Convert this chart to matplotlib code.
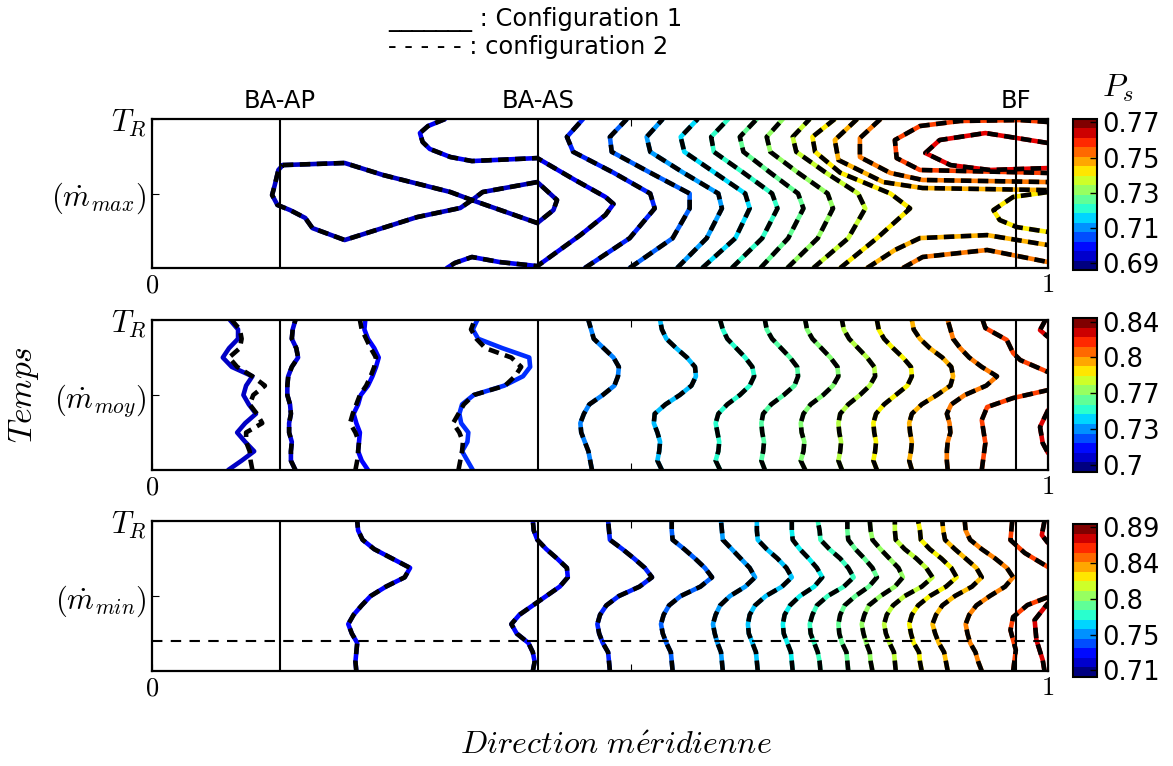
"""
Iso-Ps contours, configuration 1 vs configuration 2, three mass-flow points.
"""
import numpy as np
import matplotlib.pyplot as plt
from matplotlib import colors, cm

plt.rcParams['mathtext.fontset'] = 'cm'
plt.rcParams['font.family'] = ['DejaVu Sans']

# ---------------------------------------------------------------- colour bars
cbar_lims = [(0.6862, 0.7719), (0.6934, 0.8434), (0.7015, 0.8942)]
cbar_ticks = [[0.69, 0.71, 0.73, 0.75, 0.77],
              [0.70, 0.735, 0.77, 0.805, 0.84],
              [0.71, 0.755, 0.80, 0.845, 0.89]]
cbar_labels = [['0.69', '0.71', '0.73', '0.75', '0.77'],
               ['0.7', '0.73', '0.77', '0.8', '0.84'],
               ['0.71', '0.75', '0.8', '0.84', '0.89']]

# blade rows (meridional position)
rows_x = [0.143, 0.431, 0.964]
rows_name = ['BA-AP', 'BA-AS', 'BF']
row_tick = 0.535

ytick_names = [r'$(\dot{m}_{max})$', r'$(\dot{m}_{moy})$', r'$(\dot{m}_{min})$']

# ---------------------------------------------------------------- panel 1 (m_max)
# iso-lines given as x(t) on a common time grid
p1_t = [0.0, 0.2, 0.4, 0.5, 0.64, 0.78, 0.88, 1.0]
p1_lines = [
    [.483, .533, .561, .556, .515, .470, .463, .481],
    [.533, .581, .600, .600, .556, .513, .511, .530],
    [.586, .619, .636, .632, .593, .556, .552, .570],
    [.614, .651, .667, .662, .628, .594, .590, .609],
    [.647, .681, .698, .692, .660, .627, .624, .643],
    [.679, .710, .727, .721, .690, .660, .656, .675],
    [.709, .743, .760, .754, .721, .690, .686, .704],
    [.738, .777, .796, .788, .752, .719, .715, .734],
    [.768, .809, .846, .824, .768, .740, .737, .762],
]
p1_lvl = [.16, .22, .28, .34, .41, .47, .53, .59, .66]

# iso-lines that are not single valued in t: (level, x, t)
p1_free = [
    (.06, [.146, .215, .258, .333, .357, .430, .448, .452, .430, .369, .357, .344,
           .296, .215, .179, .171, .154, .140, .134, .137, .141, .146],
          [.691, .705, .624, .510, .456, .302, .389, .456, .577, .510, .456, .403,
           .342, .188, .268, .336, .389, .423, .490, .557, .658, .691]),
    (.10, [.327, .308, .299, .302, .310, .333, .357, .430, .472, .506, .515, .506,
           .478, .430, .388, .357, .338, .329],
          [1.0, .953, .906, .846, .799, .745, .718, .738, .591, .477, .430, .356,
           .221, .013, .040, .074, .034, 0.0]),
    (.66, [1.0, .961, .939, .946, .965, 1.0], [.510, .477, .389, .322, .275, .242]),
    (.72, [.787, .762, .766, .816, .860, 1.0], [1.0, .859, .725, .577, .537, .523]),
    (.72, [.798, .829, .857, .932, 1.0], [0.0, .121, .201, .221, .154]),
    (.78, [.813, .790, .790, .824, .860, 1.0], [1.0, .872, .745, .638, .591, .577]),
    (.78, [.838, .860, .932, 1.0], [0.0, .074, .121, .040]),
    (.84, [1.0, .969, .902, .857, .829, .831, .857, 1.0],
          [.980, .993, .987, .953, .859, .738, .658, .638]),
    (.91, [1.0, .930, .879, .863, .891, .935, 1.0],
          [.839, .906, .859, .772, .691, .658, .671]),
]

# ---------------------------------------------------------------- panel 2 (m_moy)
p2_t = np.linspace(0, 1, 17)
p2_lines = [
    [.085, .100, .114, .104, .095, .104, .116, .108, .102, .105, .112, .089, .079, .086, .096, .096, .087],
    [.160, .155, .155, .156, .153, .153, .155, .154, .151, .151, .152, .156, .163, .161, .156, .157, .160],
    [.241, .234, .230, .231, .232, .228, .225, .230, .233, .241, .246, .250, .253, .248, .241, .237, .238],
    [.358, .352, .346, .352, .353, .345, .343, .346, .359, .393, .414, .422, .421, .391, .364, .358, .363],
    [.491, .489, .487, .483, .479, .478, .482, .488, .503, .516, .520, .521, .515, .504, .493, .490, .487],
    [.569, .564, .566, .567, .564, .560, .561, .573, .589, .602, .607, .606, .597, .585, .574, .569, .567],
    [.634, .629, .632, .633, .631, .629, .632, .642, .656, .667, .672, .670, .662, .652, .642, .637, .634],
    [.684, .680, .682, .683, .681, .680, .682, .691, .705, .717, .721, .720, .712, .702, .692, .686, .684],
    [.729, .724, .727, .728, .725, .724, .727, .735, .749, .760, .766, .765, .757, .747, .737, .731, .729],
    [.770, .766, .768, .769, .767, .766, .768, .777, .790, .801, .807, .806, .798, .788, .778, .772, .770],
    [.809, .805, .807, .808, .806, .805, .808, .817, .830, .843, .848, .847, .838, .827, .817, .811, .809],
    [.848, .845, .847, .848, .846, .845, .848, .859, .876, .891, .894, .892, .882, .868, .857, .850, .848],
    [.888, .887, .887, .888, .891, .890, .887, .892, .907, .931, .943, .926, .912, .902, .894, .891, .888],
]
# configuration 2 where it departs visibly from configuration 1
p2_lines_cfg2 = {
    0: [.112, .110, .109, .105, .105, .123, .117, .109, .113, .126, .112, .095, .086, .098, .100, .098, .089],
    2: [.227, .229, .230, .231, .227, .221, .224, .228, .232, .239, .244, .248, .250, .244, .239, .234, .232],
    3: [.342, .344, .346, .347, .343, .336, .342, .348, .359, .394, .405, .412, .401, .372, .362, .356, .360],
}
p2_lvl = [.06, .08, .12, .17, .25, .31, .40, .45, .51, .57, .65, .72, .78]
p2_free = [
    (.84, [.927, .930, .954, .961, .969, 1.0], [1.0, .947, .867, .780, .733, .653]),
    (.84, [.926, .930, .926, .932, .961, 1.0], [0.0, .180, .333, .420, .480, .533]),
    (.92, [.997, .991, 1.0], [1.0, .933, .887]),
    (.92, [1.0, .991, .994, 1.0], [.400, .287, .180, .113]),
]

# ---------------------------------------------------------------- panel 3 (m_min)
p3_t = np.linspace(0, 1, 17)
p3_lines = [
    [.228, .227, .228, .229, .223, .219, .225, .234, .244, .261, .282, .288, .268, .248, .235, .230, .229],
    [.425, .427, .425, .420, .407, .401, .410, .425, .440, .455, .464, .463, .452, .440, .430, .426, .425],
    [.511, .510, .509, .503, .499, .497, .500, .507, .521, .544, .558, .550, .538, .525, .511, .510, .509],
    [.581, .580, .579, .574, .570, .568, .571, .577, .590, .612, .625, .617, .606, .594, .581, .580, .580],
    [.637, .636, .635, .631, .628, .626, .629, .634, .645, .662, .673, .667, .657, .647, .637, .636, .635],
    [.676, .675, .674, .670, .666, .665, .667, .673, .685, .703, .714, .708, .698, .686, .676, .675, .675],
    [.715, .714, .713, .709, .705, .704, .706, .712, .723, .739, .748, .742, .733, .723, .715, .714, .714],
    [.746, .745, .743, .739, .735, .734, .737, .742, .754, .772, .783, .777, .768, .756, .746, .745, .743],
    [.777, .776, .775, .770, .767, .766, .768, .773, .785, .800, .809, .804, .795, .785, .777, .776, .776],
    [.804, .802, .801, .797, .794, .792, .795, .800, .813, .829, .838, .833, .823, .813, .804, .802, .801],
    [.830, .829, .828, .823, .819, .817, .820, .827, .840, .859, .871, .864, .853, .840, .830, .829, .829],
    [.859, .857, .856, .850, .847, .845, .848, .855, .868, .886, .898, .892, .881, .868, .858, .857, .855],
    [.888, .886, .884, .878, .874, .871, .875, .882, .896, .915, .926, .920, .908, .896, .885, .883, .882],
    [.926, .922, .919, .913, .910, .908, .912, .920, .935, .952, .961, .954, .941, .926, .913, .908, .907],
]
p3_lvl = [.11, .13, .16, .22, .28, .32, .36, .42, .47, .53, .58, .65, .71, .77]
p3_free = [
    (.84, [.960, .958, .974, 1.0], [1.0, .873, .787, .693]),
    (.84, [.961, .964, .958, .961, .977, 1.0], [0.0, .140, .273, .360, .440, .493]),
    (.92, [.996, .993, 1.0], [1.0, .907, .853]),
    (.92, [.996, .994, .987, .985, 1.0], [0.0, .073, .207, .340, .453]),
]
p3_tref = 0.2   # horizontal reference instant

# ---------------------------------------------------------------- drawing
jet = plt.get_cmap('jet')
jet16 = plt.get_cmap('jet', 16)
LW = 3.3


def draw_iso(ax, x, t, lvl, x2=None, t2=None):
    """Coloured solid line (configuration 1) + black dashes (configuration 2)."""
    ax.plot(x, t, color=jet(lvl), lw=LW, solid_joinstyle='round',
            solid_capstyle='round', zorder=2)
    ax.plot(x if x2 is None else x2, t if t2 is None else t2, color='k', lw=LW,
            dashes=(2.3, 1.4), zorder=3)


fig = plt.figure(figsize=(11.73, 7.66), dpi=100)
ax_pos = [[0.1296, 0.6501, 0.7639, 0.1945],
          [0.1296, 0.3864, 0.7639, 0.1958],
          [0.1296, 0.1240, 0.7639, 0.1958]]
cax_pos = [[0.9147, 0.6475, 0.0205, 0.1971],
           [0.9147, 0.3838, 0.0205, 0.2010],
           [0.9147, 0.1162, 0.0205, 0.1997]]

axes = [fig.add_axes(p) for p in ax_pos]

for k, xs in enumerate(p1_lines):
    draw_iso(axes[0], xs, p1_t, p1_lvl[k])
for lvl, xs, ts in p1_free:
    draw_iso(axes[0], xs, ts, lvl)

for k, xs in enumerate(p2_lines):
    draw_iso(axes[1], xs, p2_t, p2_lvl[k], x2=p2_lines_cfg2.get(k))
for lvl, xs, ts in p2_free:
    draw_iso(axes[1], xs, ts, lvl)

for k, xs in enumerate(p3_lines):
    draw_iso(axes[2], xs, p3_t, p3_lvl[k])
for lvl, xs, ts in p3_free:
    draw_iso(axes[2], xs, ts, lvl)
axes[2].axhline(p3_tref, color='k', lw=1.5, dashes=(5, 4), zorder=4)

for i, ax in enumerate(axes):
    ax.set_xlim(0, 1)
    ax.set_ylim(0, 1)
    for xr in rows_x:
        ax.axvline(xr, color='k', lw=1.5, zorder=4)
    ax.set_xticks([0, row_tick, 1])
    ax.set_xticklabels(['$0$', '', '$1$'])
    ax.set_yticks([0.5, 1.0])
    ax.set_yticklabels([ytick_names[i], '$T_R$'])
    ax.tick_params(axis='x', direction='in', top=True, length=5, labelsize=19, pad=3)
    ax.tick_params(axis='y', direction='in', length=5, labelsize=22, pad=4)
    for s in ax.spines.values():
        s.set_linewidth(1.6)

    cax = fig.add_axes(cax_pos[i])
    sm = cm.ScalarMappable(norm=colors.Normalize(*cbar_lims[i]), cmap=jet16)
    cb = fig.colorbar(sm, cax=cax, ticks=cbar_ticks[i])
    cb.ax.set_yticklabels(cbar_labels[i])
    cb.ax.tick_params(direction='in', length=5, width=1, labelsize=18.5, pad=4)
    cb.outline.set_linewidth(1.5)

for xr, name in zip(rows_x, rows_name):
    axes[0].text(xr, 1.12, name, transform=axes[0].get_xaxis_transform(),
                 ha='center', va='center', fontsize=17.5)

fig.text(1118 / 1173, 1 - 88 / 766, r'$P_s$', ha='center', va='center', fontsize=23)
fig.text(388 / 1173, 1 - 20 / 766, '_______ : Configuration 1', ha='left',
         va='center', fontsize=17.4)
fig.text(388 / 1173, 1 - 47 / 766, '- - - - - : configuration 2', ha='left',
         va='center', fontsize=17.4)
fig.text(24 / 1173, 1 - 395 / 766, r'$Temps$', rotation=90, ha='center',
         va='center', fontsize=24)
fig.text(616 / 1173, 1 - 746 / 766, r'$Direction\ m\acute{e}ridienne$',
         ha='center', va='center', fontsize=23)

fig.savefig('out.png', dpi=100)
plt.close(fig)
